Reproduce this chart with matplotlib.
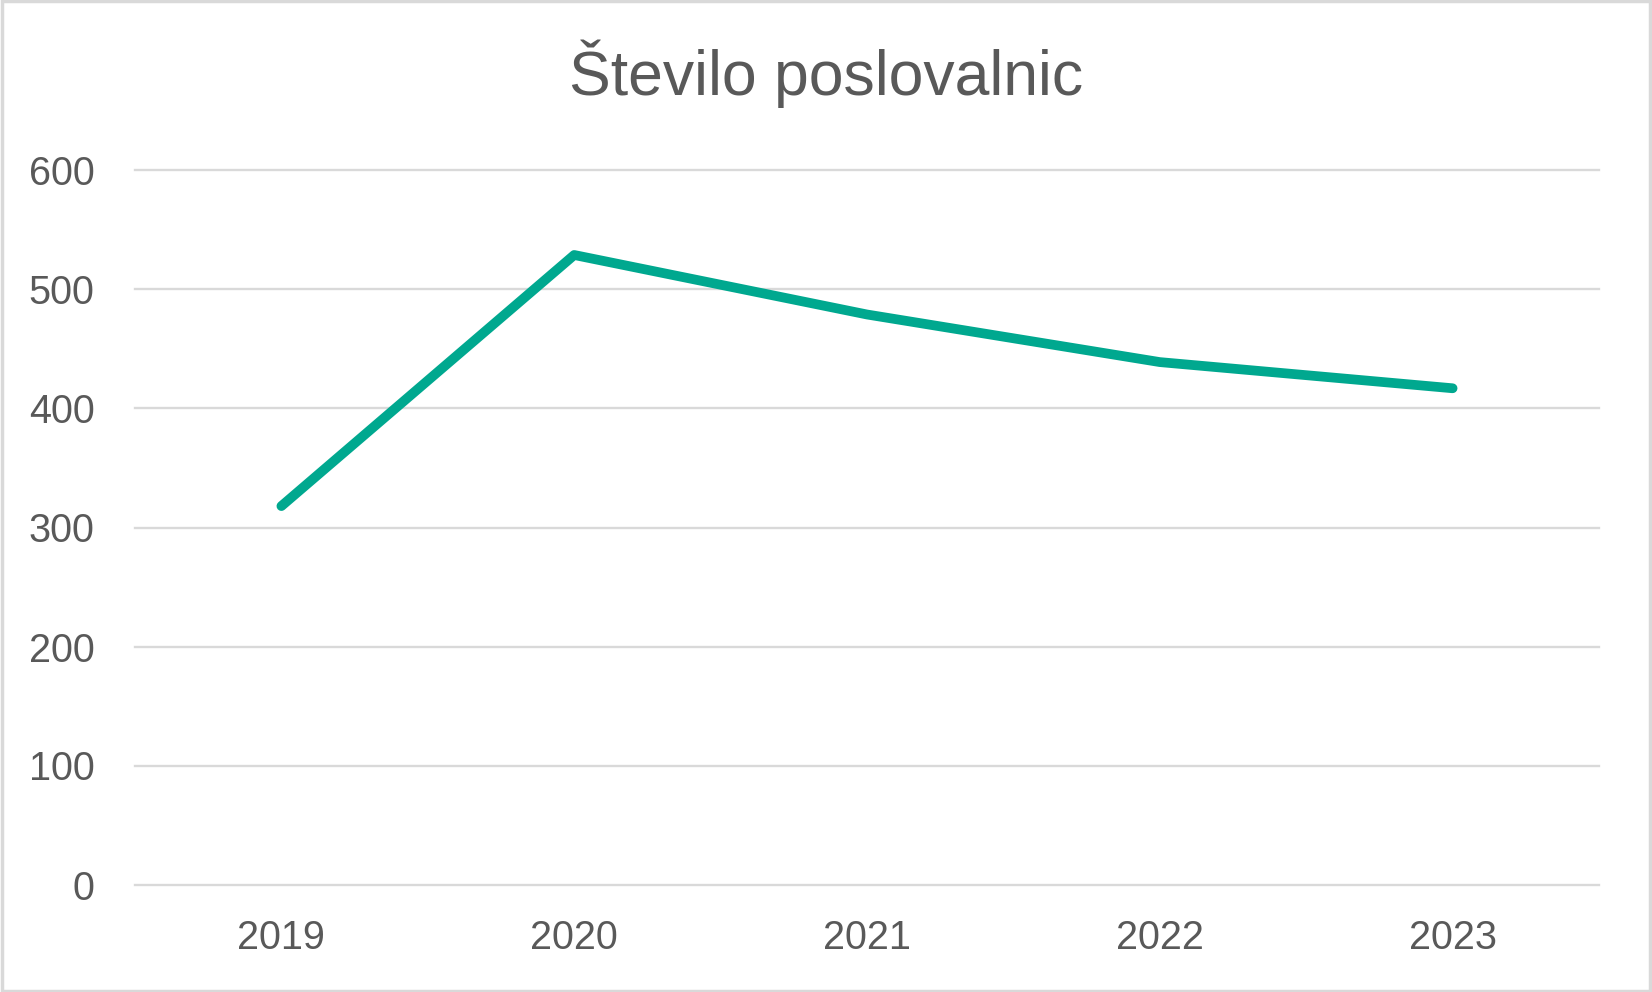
import matplotlib
matplotlib.use("Agg")
import matplotlib.pyplot as plt
from matplotlib.patches import Rectangle

years = ["2019", "2020", "2021", "2022", "2023"]
values = [318, 529, 479, 439, 417]
yticks = [0, 100, 200, 300, 400, 500, 600]
title = "Število poslovalnic"

plt.rcParams['font.family'] = ['Liberation Sans', 'DejaVu Sans']

fig = plt.figure(figsize=(16.52, 9.92), dpi=100)
ax = fig.add_axes([135/1652, 1-884.5/992, (1599-135)/1652, (884.5-170.5)/992])

x = list(range(len(years)))
ax.plot(x, values, color='#00A88F', lw=7, solid_capstyle='round', solid_joinstyle='round', zorder=3)

ax.set_xlim(-0.5, len(years)-0.5)
ax.set_ylim(0, 600)
ax.set_yticks(yticks)
ax.set_yticklabels([str(v) for v in yticks])
ax.set_xticks(x)
ax.set_xticklabels(years)
ax.grid(axis='y', color='#D9D9D9', lw=1.7, zorder=0)
for gl in ax.get_ygridlines():
    gl.set_clip_on(False)
ax.tick_params(axis='both', length=0, labelsize=28.5, labelcolor='#595959')
ax.tick_params(axis='y', pad=29)
ax.tick_params(axis='x', pad=25)
for s in ax.spines.values():
    s.set_visible(False)

fig.text(0.5, 1-74/992, title, ha='center', va='center', fontsize=45, color='#595959')

fig.patches.append(Rectangle((0.001, 0.0015), 0.998, 0.997, transform=fig.transFigure,
                             fill=False, edgecolor='#D9D9D9', lw=2.5))

fig.savefig("out.png", dpi=100, facecolor='white')
